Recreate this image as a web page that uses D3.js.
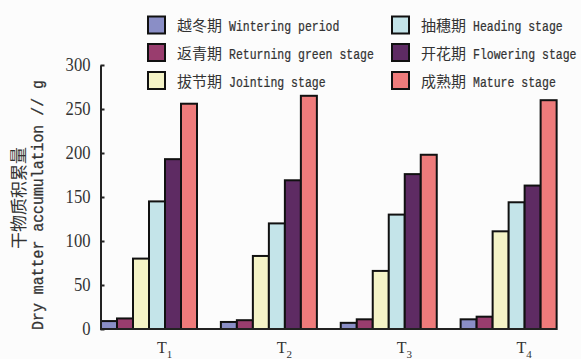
<!DOCTYPE html>
<html>
<head>
<meta charset="utf-8">
<script src="https://cdn.jsdelivr.net/npm/d3@7"></script>
<style>
  html, body { margin: 0; padding: 0; background: #fcfcfc; }
  svg { display: block; }
</style>
</head>
<body>
<svg id="chart" width="581" height="359"></svg>
<script>
// Treatments and growth stages
const categories = ["T1", "T2", "T3", "T4"];
const stageZh = ["越冬期", "返青期", "拔节期", "抽穗期", "开花期", "成熟期"];
const stageEn = ["Wintering period", "Returning green stage", "Jointing stage",
                 "Heading stage", "Flowering stage", "Mature stage"];

// Dry matter accumulation (g) per stage, one value per treatment T1..T4
const wintering = [9, 8, 7, 11];
const returning = [12, 10, 11, 14];
const jointing  = [80, 83, 66, 111];
const heading   = [145, 120, 130, 144];
const flowering = [193, 169, 176, 163];
const mature    = [256, 265, 198, 260];

const yTicks = [0, 50, 100, 150, 200, 250, 300];

const series = [wintering, returning, jointing, heading, flowering, mature];
const colors = ["#8a8ec6", "#993d6e", "#f4f3c7", "#c4e4e9", "#5e2b63", "#ee7b7b"];

const svg = d3.select("#chart");
const latin = "'Liberation Mono', monospace";
const cjk = "'Noto Sans CJK SC', sans-serif";

const y = d3.scaleLinear().domain([0, 300]).range([329, 65]);
const x = d3.scaleBand().domain(categories).range([101, 580.5]).padding(0);
const xi = d3.scaleBand().domain(d3.range(series.length)).range([0, 96]).padding(0);

// bars
const groups = svg.append("g").selectAll("g")
  .data(categories)
  .join("g")
  .attr("transform", d => `translate(${x(d)},0)`);

groups.selectAll("rect")
  .data((d, ci) => series.map((s, si) => ({ si, v: s[ci] })))
  .join("rect")
  .attr("x", d => xi(d.si))
  .attr("y", d => y(d.v))
  .attr("width", xi.bandwidth())
  .attr("height", d => y(0) - y(d.v))
  .attr("fill", d => colors[d.si])
  .attr("stroke", "#111")
  .attr("stroke-width", 2);

// x baseline
svg.append("line")
  .attr("x1", 100).attr("x2", 557)
  .attr("y1", y(0)).attr("y2", y(0))
  .attr("stroke", "#222").attr("stroke-width", 2);

// y axis with inward ticks
const yAxis = svg.append("g")
  .attr("transform", "translate(100.5,0)")
  .call(d3.axisLeft(y).tickValues(yTicks).tickSizeInner(-4).tickSizeOuter(0).tickPadding(10));
yAxis.select(".domain").attr("stroke", "#222").attr("stroke-width", 2);
yAxis.selectAll(".tick line").attr("stroke", "#222").attr("stroke-width", 2);
yAxis.selectAll(".tick text")
  .attr("font-family", "'Liberation Serif', serif")
  .attr("font-size", 18)
  .attr("textLength", d => String(d).length * 8.3)
  .attr("lengthAdjust", "spacingAndGlyphs")
  .attr("fill", "#333");

// category labels with subscript
const xl = svg.append("g").selectAll("text")
  .data(categories)
  .join("text")
  .attr("x", d => x(d) + x.bandwidth() / 2 - 4)
  .attr("y", 353)
  .attr("font-family", "'Liberation Serif', serif")
  .attr("font-size", 16)
  .attr("fill", "#333");
xl.append("tspan").text(d => d[0]);
xl.append("tspan").attr("dy", 5).attr("font-size", 11).text(d => d.slice(1));

// y axis title
const title = svg.append("g").attr("fill", "#333");
title.append("text")
  .attr("transform", "translate(25,198) rotate(-90)")
  .attr("text-anchor", "middle")
  .attr("font-family", cjk)
  .attr("font-size", 17)
  .text("干物质积累量");
title.append("text")
  .attr("transform", "translate(43,205) rotate(-90) scale(0.93,1)")
  .attr("text-anchor", "middle")
  .attr("font-family", latin)
  .attr("font-size", 16)
  .attr("stroke", "#333").attr("stroke-width", 0.3)
  .text("Dry matter accumulation // g");

// legend: two columns of three
const legend = svg.append("g");
const colX = [148, 392];
const rowY = [25, 52.5, 80.5];
const items = legend.selectAll("g")
  .data(stageZh.map((z, i) => ({ i, z, e: stageEn[i] })))
  .join("g")
  .attr("transform", d => `translate(${colX[Math.floor(d.i / 3)]},${rowY[d.i % 3]})`);
items.append("rect")
  .attr("x", 0).attr("y", -8.5).attr("width", 17).attr("height", 17)
  .attr("fill", d => colors[d.i])
  .attr("stroke", "#111").attr("stroke-width", 2);
items.append("text")
  .attr("x", 29).attr("y", 6)
  .attr("font-family", cjk).attr("font-size", 15).attr("fill", "#333")
  .text(d => d.z);
// condensed monospace for the English names
items.append("text")
  .attr("transform", "translate(81,6) scale(0.767,1)")
  .attr("font-family", latin).attr("font-size", 15).attr("fill", "#333")
  .attr("stroke", "#333").attr("stroke-width", 0.25)
  .text(d => d.e);
</script>
</body>
</html>
